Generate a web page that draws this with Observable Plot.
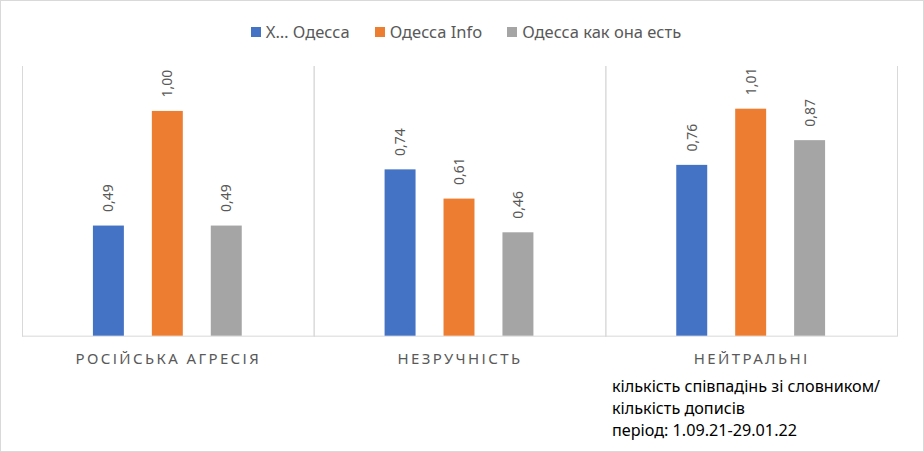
<!DOCTYPE html>
<html>
<head>
<meta charset="utf-8">
<script src="https://cdn.jsdelivr.net/npm/d3@7"></script>
<script src="https://cdn.jsdelivr.net/npm/@observablehq/plot@0.6"></script>
<style>
  body { margin: 0; background: #fff; }
  #chart { position: relative; width: 924px; height: 452px; box-sizing: border-box; border: 1px solid #d9d9d9; font-family: "Noto Sans", sans-serif; overflow: hidden; }
  #legend { position: absolute; top: 20px; left: 4px; width: 100%; display: flex; justify-content: center; gap: 25px; font-size: 16.5px; line-height: 22px; color: #595959; }
  #legend .item { display: flex; align-items: center; gap: 5px; }
  #legend .sw { width: 10px; height: 10px; display: inline-block; }
  #plot { position: absolute; top: 50px; left: -1px; }
  #plot g[aria-label^="fx-axis"] text { letter-spacing: 2.4px; }
  #caption { position: absolute; left: 611px; top: 374px; font-size: 16.2px; line-height: 22px; color: #000; }
</style>
</head>
<body>
<div id="chart">
  <div id="legend"></div>
  <div id="plot"></div>
  <div id="caption"></div>
</div>
<script>
const categories = ["Російська агресія", "Незручність", "Нейтральні"];
const series = ["Х… Одесса", "Одесса Info", "Одесса как она есть"];
const xOdesa = [0.49, 0.74, 0.76];
const odesaInfo = [1.00, 0.61, 1.01];
const odesaYakYe = [0.49, 0.46, 0.87];
const colors = ["#4472C4", "#ED7D31", "#A5A5A5"];
const captionLines = ["кількість співпадінь зі словником/", "кількість дописів", "період: 1.09.21-29.01.22"];

const seriesValues = [xOdesa, odesaInfo, odesaYakYe];
const data = categories.flatMap((c, i) => series.map((s, j) => ({category: c, series: s, value: seriesValues[j][i]})));

// legend
const legend = document.getElementById("legend");
series.forEach((s, j) => {
  const it = document.createElement("span");
  it.className = "item";
  const sw = document.createElement("span");
  sw.className = "sw";
  sw.style.background = colors[j];
  const t = document.createElement("span");
  t.textContent = s;
  it.append(sw, t);
  legend.append(it);
});

// caption
const cap = document.getElementById("caption");
captionLines.forEach(l => { const d = document.createElement("div"); d.textContent = l; cap.append(d); });

const chart = Plot.plot({
  width: 924,
  height: 320,
  marginTop: 15,
  marginBottom: 35,
  marginLeft: 22,
  marginRight: 26,
  style: { fontFamily: "Noto Sans, sans-serif", background: "transparent" },
  facet: { data, x: "category" },
  fx: { domain: categories, paddingInner: 0, paddingOuter: 0, label: null, axis: "bottom", tickSize: 0, tickPadding: 17, tickFormat: d => d.toUpperCase() },
  x: { domain: series, paddingInner: 0.467, paddingOuter: 1.17, axis: null },
  y: { domain: [0, 1.2], axis: null },
  color: { domain: series, range: colors },
  marks: [
    Plot.frame({ anchor: "left", stroke: "#d9d9d9" }),
    Plot.frame({ anchor: "right", stroke: "#d9d9d9" }),
    Plot.ruleY([0], { stroke: "#d9d9d9" }),
    Plot.barY(data, { x: "series", y: "value", fill: "series" }),
    Plot.text(data, {
      x: "series", y: "value",
      text: d => d.value.toFixed(2).replace(".", ","),
      rotate: -90, textAnchor: "start", lineAnchor: "middle",
      dy: -14, fontSize: 14, fill: "#595959"
    })
  ]
});
chart.querySelectorAll('g[aria-label^="fx-axis"] text').forEach(t => { t.style.fontSize = "15px"; t.style.fill = "#595959"; });
document.getElementById("plot").append(chart);
</script>
</body>
</html>
